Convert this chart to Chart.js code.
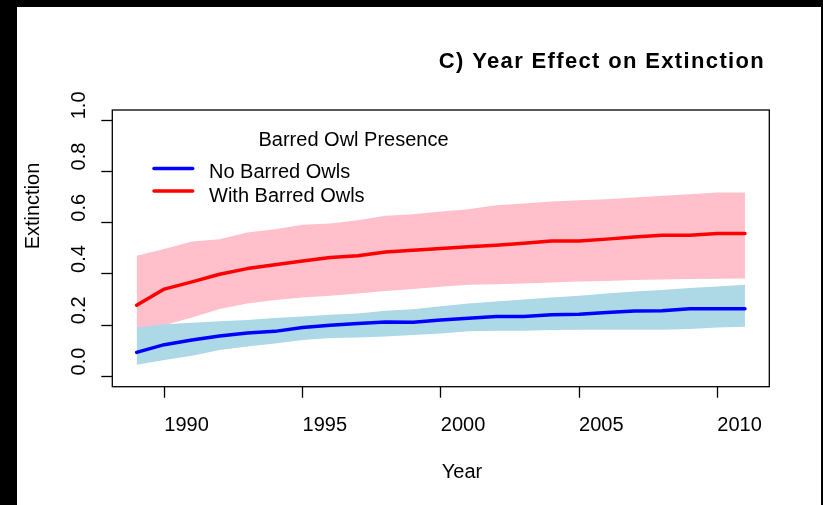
<!DOCTYPE html>
<html><head><meta charset="utf-8">
<script src="https://cdn.jsdelivr.net/npm/chart.js@4.4.1/dist/chart.umd.min.js"></script>
<style>
html,body{margin:0;padding:0;background:#000;width:823px;height:505px;overflow:hidden;}
#wrap{position:absolute;left:17px;top:7px;width:804px;height:498px;background:#fff;}
canvas{display:block;}
</style></head><body>
<div id="wrap"><canvas id="c" width="804" height="498"></canvas></div>
<script>
const years = [1989,1990,1991,1992,1993,1994,1995,1996,1997,1998,1999,2000,2001,2002,2003,2004,2005,2006,2007,2008,2009,2010,2011];
const noOwlMean  = [0.094,0.124,0.142,0.158,0.170,0.176,0.191,0.200,0.207,0.213,0.212,0.220,0.227,0.234,0.234,0.241,0.243,0.250,0.255,0.256,0.264,0.264,0.264];
const noOwlUpper = [0.191,0.204,0.210,0.215,0.220,0.228,0.234,0.241,0.246,0.256,0.262,0.274,0.285,0.293,0.300,0.308,0.315,0.324,0.332,0.337,0.345,0.351,0.358];
const noOwlLower = [0.046,0.064,0.081,0.103,0.117,0.129,0.142,0.150,0.152,0.156,0.162,0.168,0.176,0.178,0.178,0.181,0.182,0.182,0.182,0.182,0.185,0.191,0.194];
const withOwlMean  = [0.278,0.341,0.369,0.399,0.421,0.436,0.451,0.464,0.471,0.486,0.493,0.499,0.506,0.512,0.520,0.529,0.529,0.536,0.544,0.551,0.551,0.558,0.558];
const withOwlUpper = [0.471,0.497,0.527,0.536,0.562,0.575,0.592,0.597,0.610,0.627,0.633,0.644,0.653,0.668,0.675,0.683,0.688,0.692,0.698,0.705,0.711,0.718,0.718];
const withOwlLower = [0.160,0.200,0.230,0.263,0.285,0.298,0.308,0.315,0.324,0.334,0.341,0.350,0.358,0.360,0.363,0.367,0.371,0.373,0.376,0.378,0.380,0.381,0.382];
const xTickValues = [1990,1995,2000,2005,2010];
const yTickValues = [0,0.2,0.4,0.6,0.8,1.0];
const seriesNames = ['No Barred Owls','With Barred Owls'];
const legendTitle = 'Barred Owl Presence';
const chartTitle = 'C) Year Effect on Extinction';
const xTitle = 'Year';
const yTitle = 'Extinction';

const FONT = "'Liberation Sans', Arial, Helvetica, sans-serif";
const toXY = arr => years.map((y, i) => ({x: y, y: arr[i]}));

const boxAndText = {
  id: 'boxAndText',
  afterDatasetsDraw(chart) {
    const {ctx, chartArea: a} = chart;
    ctx.save();
    ctx.strokeStyle = '#000';
    ctx.lineWidth = 1.3;
    ctx.strokeRect(a.left, a.top, a.right - a.left, a.bottom - a.top);
    ctx.restore();
  },
  afterDraw(chart) {
    const {ctx, chartArea: a} = chart;
    const cx = (a.left + a.right) / 2;
    const cy = (a.top + a.bottom) / 2;
    ctx.save();
    ctx.fillStyle = '#000';
    ctx.textAlign = 'left';
    ctx.textBaseline = 'alphabetic';
    // title
    ctx.font = 'bold 22px ' + FONT;
    try { ctx.letterSpacing = '1.35px'; } catch (e) {}
    ctx.fillText(chartTitle, cx - 2, 60.5);
    try { ctx.letterSpacing = '0px'; } catch (e) {}
    // x title
    ctx.font = '20px ' + FONT;
    ctx.fillText(xTitle, cx + 1, 470.5);
    // y title
    ctx.save();
    ctx.translate(22.3, cy + 1);
    ctx.rotate(-Math.PI / 2);
    ctx.fillText(yTitle, 0, 0);
    ctx.restore();
    // legend
    ctx.fillText(legendTitle, a.left + 146.2, a.top + 36);
    const ds = chart.data.datasets;
    const rows = [a.top + 58.5, a.top + 81];
    const bases = [a.top + 68.3, a.top + 91.7];
    for (let i = 0; i < 2; i++) {
      ctx.strokeStyle = ds[i].borderColor;
      ctx.lineWidth = 3.5;
      ctx.lineCap = 'round';
      ctx.beginPath();
      ctx.moveTo(a.left + 41.7, rows[i]);
      ctx.lineTo(a.left + 80.4, rows[i]);
      ctx.stroke();
      ctx.fillText(ds[i].label, a.left + 96.7, bases[i]);
    }
    ctx.restore();
  }
};

const bandStyle = {pointRadius: 0, borderColor: 'rgba(0,0,0,0)', borderWidth: 1, tension: 0};
const lineStyle = {pointRadius: 0, borderWidth: 3.5, tension: 0, fill: false, borderCapStyle: 'round', borderJoinStyle: 'round'};

new Chart(document.getElementById('c'), {
  type: 'line',
  data: {
    datasets: [
      Object.assign({label: seriesNames[0], data: toXY(noOwlMean), borderColor: '#0000ff'}, lineStyle),
      Object.assign({label: seriesNames[1], data: toXY(withOwlMean), borderColor: '#ff0000'}, lineStyle),
      Object.assign({label: 'No Barred Owls upper', data: toXY(noOwlUpper), backgroundColor: '#add8e6', fill: '+1'}, bandStyle),
      Object.assign({label: 'No Barred Owls lower', data: toXY(noOwlLower), fill: false}, bandStyle),
      Object.assign({label: 'With Barred Owls upper', data: toXY(withOwlUpper), backgroundColor: '#ffc0cb', fill: '+1'}, bandStyle),
      Object.assign({label: 'With Barred Owls lower', data: toXY(withOwlLower), fill: false}, bandStyle)
    ]
  },
  options: {
    responsive: false,
    animation: false,
    devicePixelRatio: 1,
    layout: {padding: {left: 52, top: 103, right: 51.7, bottom: 0}},
    plugins: {
      legend: {display: false},
      title: {display: false},
      tooltip: {enabled: false},
      filler: {drawTime: 'beforeDatasetsDraw', propagate: false}
    },
    scales: {
      x: {
        type: 'linear', min: 1988.12, max: 2011.88,
        afterBuildTicks: s => { s.ticks = xTickValues.map(v => ({value: v})); },
        afterFit: s => { s.height = 118.3; },
        ticks: {align: 'start', padding: 16, color: '#000', font: {family: FONT, size: 20}, autoSkip: false, minRotation: 0, maxRotation: 0, callback: v => String(v)},
        grid: {drawOnChartArea: false, drawTicks: true, tickLength: 11, tickColor: '#000', tickWidth: 1.3},
        border: {display: false}
      },
      y: {
        type: 'linear', min: -0.04, max: 1.04,
        afterBuildTicks: s => { s.ticks = yTickValues.map(v => ({value: v})); },
        afterFit: s => { s.width = 43.3; },
        ticks: {align: 'start', crossAlign: 'far', minRotation: 90, maxRotation: 90, padding: 0, labelOffset: -1, color: '#000', font: {family: FONT, size: 20}, autoSkip: false, callback: v => Number(v).toFixed(1)},
        grid: {drawOnChartArea: false, drawTicks: true, tickLength: 11, tickColor: '#000', tickWidth: 1.3},
        border: {display: false}
      }
    }
  },
  plugins: [boxAndText]
});
</script>
</body></html>
